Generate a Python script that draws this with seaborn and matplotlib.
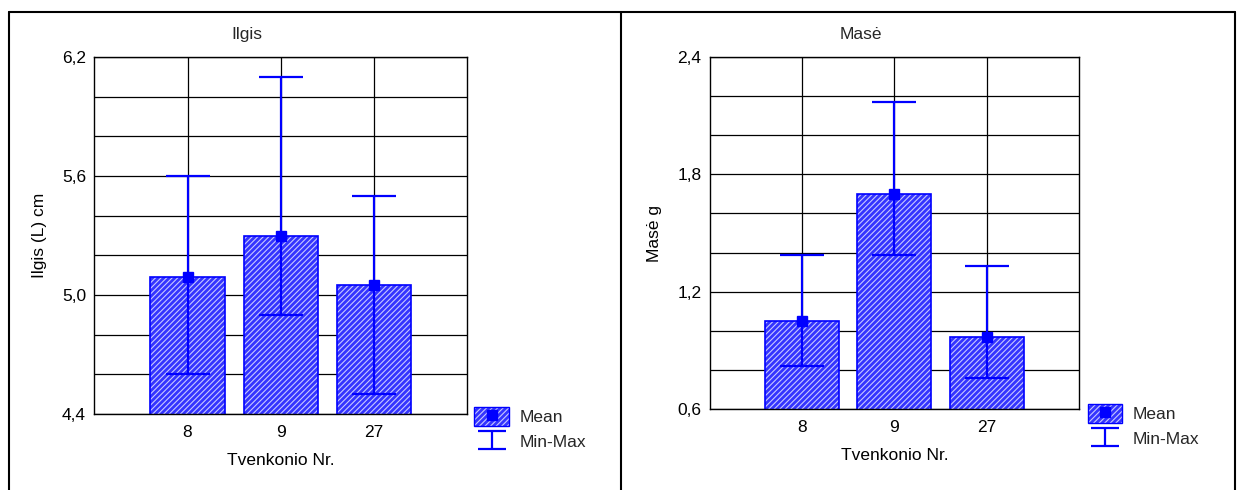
import matplotlib.pyplot as plt
import matplotlib.lines as mlines
import matplotlib.patches as mpatches
from matplotlib.path import Path
from matplotlib.legend_handler import HandlerTuple
import numpy as np
import pandas as pd
import seaborn as sns

ponds = ['8', '9', '27']

length_mean = [5.09, 5.30, 5.05]
length_min = [4.60, 4.90, 4.50]
length_max = [5.60, 6.10, 5.50]
length_ticks = [4.4, 5.0, 5.6, 6.2]

mass_mean = [1.05, 1.70, 0.97]
mass_min = [0.82, 1.39, 0.76]
mass_max = [1.39, 2.17, 1.33]
mass_ticks = [0.6, 1.2, 1.8, 2.4]

sns.set_style('white')
plt.rcParams['font.family'] = ['Liberation Sans', 'DejaVu Sans']
plt.rcParams['hatch.linewidth'] = 0.8

BLUE = '#0000ff'
FACE = '#3434ff'
STRIPE = '#c8c8ff'
HATCH = '//////'
FS = 12.5

W, H = 1242, 490
fig = plt.figure(figsize=(W / 100, H / 100), dpi=100)
ax1 = fig.add_axes([94.3 / W, 76 / H, 373 / W, 357 / H])
ax2 = fig.add_axes([709.7 / W, 81 / H, 369.3 / W, 352 / H])

# I-shaped marker for the Min-Max legend entry
minmax_path = Path([(-1, 0.65), (1, 0.65), (0, 0.65), (0, -0.65), (-1, -0.65), (1, -0.65)],
                   [Path.MOVETO, Path.LINETO, Path.MOVETO, Path.LINETO, Path.MOVETO, Path.LINETO])


def hatched_box(**kw):
    # light hatch stripes on blue, with a blue outline drawn separately
    return mpatches.Patch(facecolor=FACE, edgecolor=STRIPE, hatch=HATCH, lw=0, **kw)


def panel(ax, mean, lo, hi, ticks, title, ylabel, legend_xy):
    df = pd.DataFrame({'pond': ponds, 'mean': mean, 'lo': lo, 'hi': hi})
    sns.barplot(data=df, x='pond', y='mean', order=ponds, color=FACE, saturation=1,
                width=0.8, errorbar=None, edgecolor=STRIPE, linewidth=0, hatch=HATCH,
                ax=ax, zorder=2)
    for p in list(ax.patches):
        ax.add_patch(mpatches.Rectangle(p.get_xy(), p.get_width(), p.get_height(),
                                        fill=False, edgecolor=BLUE, lw=1.2, zorder=2.1))
    x = np.arange(len(ponds))
    yerr = [df['mean'] - df['lo'], df['hi'] - df['mean']]
    ax.errorbar(x, df['mean'], yerr=yerr, fmt='s', color=BLUE, ms=7, elinewidth=1.6,
                capsize=16, capthick=1.6, zorder=3)

    ax.set_xlim(-1, 3)
    ax.set_ylim(ticks[0], ticks[-1])
    ax.set_yticks(ticks)
    ax.set_yticks(np.linspace(ticks[0], ticks[-1], 10), minor=True)
    ax.set_yticklabels([f'{t:.1f}'.replace('.', ',') for t in ticks])
    ax.set_axisbelow(True)
    ax.grid(True, which='both', axis='y', color='black', lw=0.9)
    ax.grid(True, which='major', axis='x', color='black', lw=0.9)
    ax.tick_params(axis='both', which='both', length=0, labelsize=FS, colors='black')
    ax.tick_params(axis='y', pad=6)
    ax.tick_params(axis='x', pad=8)
    for s in ax.spines.values():
        s.set_color('black')
        s.set_linewidth(1)

    ax.set_xlabel('Tvenkonio Nr.', fontsize=FS, labelpad=9, color='black')
    ax.set_ylabel(ylabel, fontsize=FS, labelpad=11, color='black')
    ax.text(0.41, 1 + 23 / 357, title, transform=ax.transAxes, ha='center', va='center',
            fontsize=FS)

    mean_handle = (hatched_box(),
                   mpatches.Patch(facecolor='none', edgecolor=BLUE, lw=1),
                   mlines.Line2D([], [], marker='s', color=BLUE, ls='none', ms=7))
    minmax_handle = mlines.Line2D([], [], marker=minmax_path, ms=20, mec=BLUE, mfc='none',
                                  mew=1.6, ls='none')
    fig.legend([mean_handle, minmax_handle], ['Mean', 'Min-Max'],
               handler_map={tuple: HandlerTuple(ndivide=1)},
               loc='upper left', bbox_to_anchor=legend_xy, frameon=False,
               borderpad=0, borderaxespad=0, handlelength=2.0, handleheight=1.3,
               handletextpad=0.6, labelspacing=0.35, fontsize=FS)


panel(ax1, length_mean, length_min, length_max, length_ticks, 'Ilgis', 'Ilgis (L) cm',
      (474.5 / W, 1 - 407 / H))
panel(ax2, mass_mean, mass_min, mass_max, mass_ticks, 'Masė', 'Masė g',
      (1087.5 / W, 1 - 404 / H))

# outer table-like frame
top = 1 - 11.7 / H
for x in [8.7 / W, 621 / W, 1235 / W]:
    fig.add_artist(mlines.Line2D([x, x], [0, top], transform=fig.transFigure,
                                 color='black', lw=1.5))
fig.add_artist(mlines.Line2D([8.7 / W, 1235 / W], [top, top], transform=fig.transFigure,
                             color='black', lw=1.5))

fig.savefig('out.png', dpi=100)
